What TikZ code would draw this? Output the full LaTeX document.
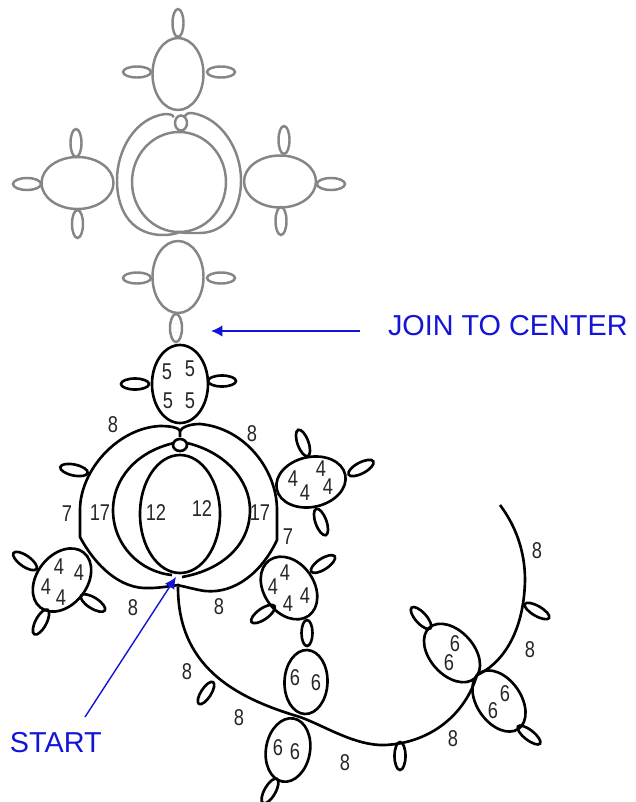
\documentclass[tikz,border=0pt]{standalone}
\usepackage{fontspec}
\setmainfont{Liberation Sans}
\usetikzlibrary{arrows.meta}
\definecolor{joinblue}{RGB}{20,20,215}

\begin{document}
\begin{tikzpicture}[x=0.02cm, y=-0.02cm,
    every node/.style={inner sep=0pt, outer sep=0pt},
    grayline/.style={draw=black!48, line width=1.4pt},
    blackline/.style={draw=black, line width=1.5pt},
    stitchlab/.style={font=\fontsize{13}{14}\selectfont, text=black!85},
    notelab/.style={font=\fontsize{16.4}{18}\selectfont, text=joinblue},
    notearrow/.style={draw=joinblue, line width=.8pt, -{Latex[length=6.5pt,width=6.5pt]}}]
  % Marco
  \useasboundingbox (0,0) rectangle (636,802);

  % Motivo gris: anillos y piquitos
  \foreach \cx/\cy/\rx/\ry/\ang in {
      178/74/36/25.5/90, 178/277/36/25.5/90, 77.5/183/36/26/0, 280/181.5/36/26/0,
      179/182/50/47/90, 181/123/6/7.5/0,
      178/23/14/5.5/90, 137/72/14/5.5/0, 221/72/14/5.5/0,
      137/278/14/5.5/0, 221/278/14/5.5/0, 176/328/14/6/90,
      76/143/14/5.5/90, 77.5/224/14/5.5/90, 27/184/14/6/0,
      284/140/14/5.5/90, 281/221/14/5.5/90, 331/184/14/6/0}
    \draw[grayline, rotate around={\ang:(\cx,\cy)}] (\cx,\cy) ellipse [x radius=\rx, y radius=\ry];

  % Cadenas grises
  \draw[grayline] (174,117) .. controls (172,114) and (168,114) .. (165,114)
    .. controls (135,118) and (117,150) .. (117,180)
    .. controls (117,215) and (135,235) .. (163,235)
    .. controls (170,235) and (175,234) .. (180,232);
  \draw[grayline] (184,117) .. controls (185,114) and (188,113) .. (192,113)
    .. controls (222,118) and (241,150) .. (241,180)
    .. controls (241,215) and (222,234) .. (197,233)
    .. controls (190,233) and (184,233) .. (178,232);

  % Anillos negros
  \foreach \cx/\cy/\rx/\ry/\ang in {
      180/384/39/28/90, 180/514/59/40/90, 180/445/6/7/90,
      311/482/35/25/12, 62/580/35/25/52, 289/588/34/25/-55,
      306/682/32/21.5/88, 288/750/32/22/80, 452/653/34/22/-48, 499/701/34/22/-55,
      135/384/14/5.5/0, 222/381/14/5.5/0, 74/470/14/5.5/-12,
      303/443/14/5.5/110, 361/468/14/5.5/28, 321/522/14/5.5/110,
      25/561/14/5.5/-35, 93/603/14/5.5/-32, 41/622/14/5.5/62,
      323/564/14/5.5/33, 263/614/14/5.5/35, 307/633/13/5.5/90,
      206/693/13/5/57, 270/791/14/5.5/60, 400/756/14/5.5/90,
      421/618/14/5.5/-48, 529/735/14/5/-38, 537/611/14/5/-30}
    \draw[blackline, rotate around={\ang:(\cx,\cy)}] (\cx,\cy) ellipse [x radius=\rx, y radius=\ry];

  % Cadenas negras alrededor del centro
  \draw[blackline] (180,437) -- (180,431) .. controls (179,428) and (172,426) .. (160,426)
    .. controls (118,428) and (80,470) .. (80,510) -- (80,537)
    .. controls (95,565) and (120,590) .. (150,588)
    .. controls (160,588) and (170,586) .. (179,585);
  \draw[blackline] (180,431) .. controls (182,427) and (190,424) .. (200,424)
    .. controls (245,428) and (277,470) .. (277,510) -- (277,540)
    .. controls (262,572) and (235,594) .. (205,591)
    .. controls (197,590) and (187,587) .. (177,585);
  \draw[blackline] (174,443) .. controls (135,452) and (113,480) .. (113,510)
    .. controls (113,545) and (140,572) .. (172,575);
  \draw[blackline] (187,443) .. controls (225,452) and (250,480) .. (250,510)
    .. controls (250,545) and (222,570) .. (182,577);

  % Cadena larga
  \draw[blackline] (178,587) .. controls (178,665) and (232,697) .. (300,717)
    .. controls (325,726) and (355,746) .. (385,745)
    .. controls (430,743) and (465,715) .. (477,675)
    .. controls (500,665) and (524,635) .. (525,580)
    .. controls (525,550) and (515,525) .. (500,505);

  % Puntadas
  \foreach \lx/\ly/\txt [count=\i] in {
      167/372/5, 190/369/5, 168/401/5, 190/401/5,
      113/425/8, 252/434/8, 67/514/7, 100/513/17, 156/513/12, 202/509/12,
      260/513/17, 288/537/7, 133/608/8, 219/607/8,
      293/479/4, 321/469/4, 305/493/4, 328/487/4,
      59/567/4, 79/573/4, 46/587/4, 61/598/4,
      285/573/4, 273/587/4, 305/596/4, 288/604/4,
      295/678/6, 316/683/6, 278/748/6, 295/752/6,
      455/644/6, 449/663/6, 505/694/6, 493/711/6,
      187/672/8, 239/718/8, 345/763/8, 453/739/8, 530/650/8, 537/551/8}
    \node[stitchlab] (stitch\i) at (\lx,\ly) {\scalebox{.8}[1]{\txt}};

  % Indicaciones
  \node[notelab, anchor=west] (joinlab) at (388,326) {JOIN TO CENTER};
  \node[notelab, anchor=west] (startlab) at (10,743) {START};
  \path (360,331) coordinate (joinfrom);
  \path (211,331) coordinate (jointip);
  \path (85,717) coordinate (startfrom);
  \path (176,577) coordinate (starttip);
  \draw[notearrow] (joinfrom) -- (jointip);
  \draw[notearrow] (startfrom) -- (starttip);
\end{tikzpicture}
\end{document}
